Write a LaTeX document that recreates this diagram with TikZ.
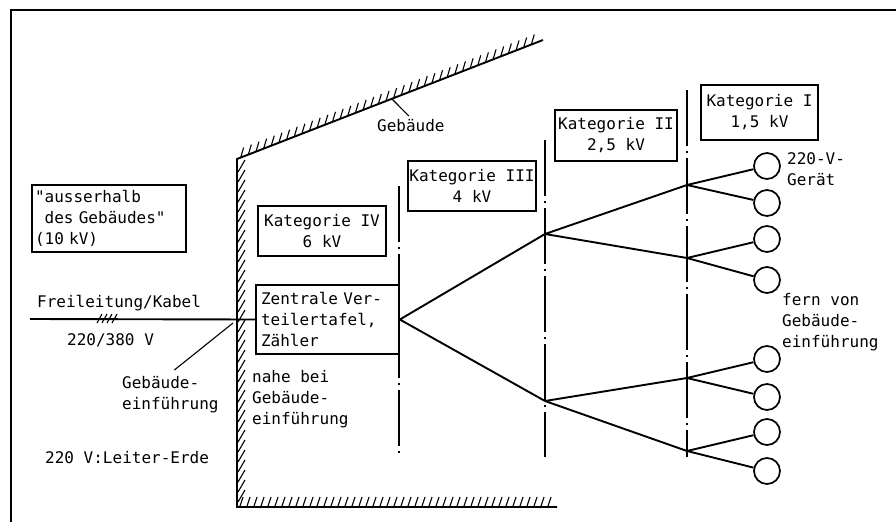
\documentclass[tikz,border=0pt]{standalone}
\usepackage{fontspec}
\setmonofont{DejaVu Sans Mono}
\usepackage{tikz}
\tikzset{
      mykblock/.style 2 args={
        draw,
        line width=1.7pt,
        align=center,
        minimum width=#1,
        minimum height=#2,
        inner sep=0.5pt
      },
      mytblock/.style 2 args={
        draw,
        line width=1.7pt,
        align=left,
        text width=#1,
        minimum height=#2,
        inner xsep=5pt
      },
      mylabel/.style={
        anchor=north west,
        align=left,
        inner sep=0pt
      },
      mydevice/.style={
        draw,
        circle,
        line width=1.7pt,
        minimum size=26pt,
        inner sep=0pt
      },
      mywire/.style={line width=1.9pt},
      mysep/.style={line width=1.4pt,dash pattern=on 56pt off 5pt on 2pt off 5pt},
      myhatch/.style={line width=1.1pt}
    }
\begin{document}
\begin{tikzpicture}[x=1pt,y=-1pt,font=\ttfamily\fontsize{16}{21}\selectfont]
          \useasboundingbox (0,0) rectangle (896,522);
          \draw[line width=1.4pt] (896,10) -- (11,10) -- (11,522);

          % building
          \coordinate (roofl) at (237,159);
          \coordinate (roofr) at (543,40);
          \coordinate (floorl) at (237,507);
          \coordinate (floorr) at (557,507);
          \draw[mywire] (roofr) -- (roofl) -- (floorl) -- (floorr);
          \foreach \i in {0,...,38}
            \draw[myhatch] ({237+306*(0.012+0.025*\i)},{159-119*(0.012+0.025*\i)}) -- ++(3,-10);
          \foreach \y in {172,182,...,502}
            \draw[myhatch] (238,\y) -- ++(7,-12);
          \foreach \x in {240,247,...,552}
            \draw[myhatch] (\x,506) -- ++(3,-9);
          \node[mylabel]
            (lroof) at (377,119)
            {Gebäude};
          \coordinate (roofmark) at (392,99);
          \draw[myhatch] (roofmark) -- ([xshift=-2pt,yshift=3pt]lroof.north);

          % boxes
          \node[mytblock={148pt}{67pt},inner xsep=3pt]
            (outside) at (109,218.5)
            {"ausserhalb\\\hphantom{"}des Gebäudes"\\(10 kV)};
          \node[mykblock={128pt}{50pt}]
            (kat4) at (322,231)
            {Kategorie IV\\6 kV};
          \node[mykblock={128pt}{50pt}]
            (kat3) at (472,186)
            {Kategorie III\\4 kV};
          \node[mykblock={122pt}{51pt}]
            (kat2) at (616,135.5)
            {Kategorie II\\2,5 kV};
          \node[mykblock={117pt}{55pt}]
            (kat1) at (759.5,112.5)
            {Kategorie I\\1,5 kV};
          \node[mytblock={133pt}{69pt}]
            (zen) at (327.5,319.5)
            {Zentrale Ver-\\teilertafel,\\Zähler};

          % separators
          \coordinate (s1a) at (399,186);
          \coordinate (s1b) at (399,457);
          \coordinate (s2a) at (545,140);
          \coordinate (s2b) at (545,457);
          \coordinate (s3a) at (687,90);
          \coordinate (s3b) at (687,457);
          \draw[mysep] (s1a) -- (s1b) (s2a) -- (s2b) (s3a) -- (s3b);

          % incoming line
          \coordinate (cablestart) at (30,319);
          \coordinate (wallentry) at (233,323);
          \draw[mywire] (cablestart) -- (zen.west);
          \foreach \x in {97,102,107,112}
            \draw[myhatch] (\x,323) -- ++(5,-9);
          \node[mylabel]
            (lcable) at (37,295)
            {Freileitung/Kabel};
          \node[mylabel]
            (lvolt) at (67,333)
            {220/380 V};
          \node[mylabel]
            (lentry) at (122,376)
            {Gebäude-\\einführung};
          \draw[myhatch] ([xshift=4pt,yshift=6pt]lentry.north) -- (wallentry);
          \node[mylabel]
            (lnear) at (252,370)
            {nahe bei\\Gebäude-\\einführung};
          \node[mylabel]
            (learth) at (45,451)
            {220 V:Leiter-Erde};

          % distribution tree
          \coordinate (j1) at (545,234);
          \coordinate (j2) at (545,401);
          \coordinate (j11) at (687,185);
          \coordinate (j12) at (687,258);
          \coordinate (j21) at (687,378);
          \coordinate (j22) at (687,451);
          \foreach \n/\y in {1/166,2/203,3/239,4/280,5/359,6/397,7/432,8/471}
            \node[mydevice] (g\n) at (767,\y) {};
          \draw[mywire] (zen.east) -- (j1) (zen.east) -- (j2);
          \draw[mywire] (j1) -- (j11) (j1) -- (j12) (j2) -- (j21) (j2) -- (j22);
          \foreach \j/\a/\b in {j11/g1/g2,j12/g3/g4,j21/g5/g6,j22/g7/g8}
            \draw[mywire] (\j) -- (\a) (\j) -- (\b);
          \node[mylabel]
            (ldevice) at (787,152)
            {220-V-\\Gerät};
          \node[mylabel]
            (lfar) at (782,293)
            {fern von\\Gebäude-\\einführung};
        \end{tikzpicture}
\end{document}
